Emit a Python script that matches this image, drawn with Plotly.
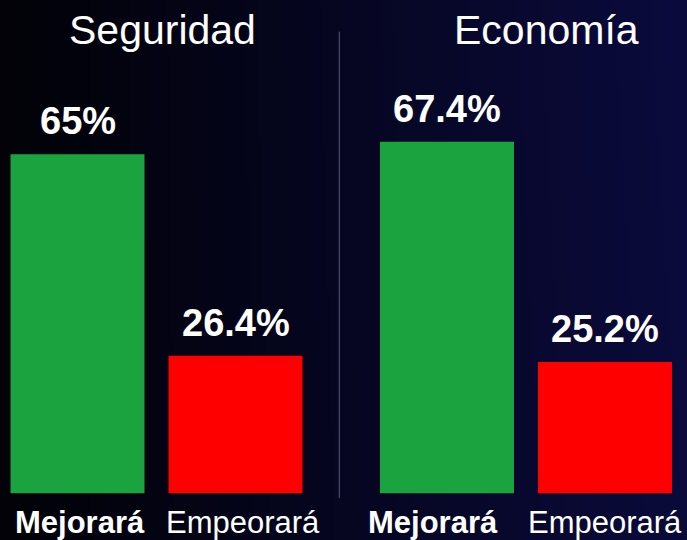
import base64
import struct
import zlib

import numpy as np
import plotly.graph_objects as go

# ---------------- data ----------------
panels = ["Seguridad", "Economía"]
categories = ["Mejorará", "Empeorará"]
seguridad_values = [65.0, 26.4]
economia_values = [67.4, 25.2]
seguridad_labels = ["65%", "26.4%"]
economia_labels = ["67.4%", "25.2%"]

# ---------------- style ----------------
bar_colors = ["#1ba340", "#fe0000"]
FONT = "Liberation Sans, Arial, sans-serif"
W, H = 687, 540


def gradient_png(w=172, h=135):
    xs = np.linspace(0.0, 1.0, w)[None, :]
    ys = np.linspace(0.0, 1.0, h)[:, None]
    t = np.clip(xs ** 1.05 * (0.9 + 0.1 * (1 - ys)) + 0.05 * ys * xs, 0, 1)
    c0 = np.array([2, 2, 8], dtype=float)
    c1 = np.array([11, 11, 62], dtype=float)
    img = (c0[None, None, :] * (1 - t[..., None]) + c1[None, None, :] * t[..., None])
    img = np.clip(img, 0, 255).astype(np.uint8)
    raw = b"".join(b"\x00" + img[r].tobytes() for r in range(h))

    def chunk(tag, data):
        c = struct.pack(">I", len(data)) + tag + data
        return c + struct.pack(">I", zlib.crc32(tag + data) & 0xFFFFFFFF)

    png = b"\x89PNG\r\n\x1a\n"
    png += chunk(b"IHDR", struct.pack(">IIBBBBB", w, h, 8, 2, 0, 0, 0))
    png += chunk(b"IDAT", zlib.compress(raw, 9))
    png += chunk(b"IEND", b"")
    return "data:image/png;base64," + base64.b64encode(png).decode()


fig = go.Figure()
fig.add_trace(go.Bar(x=categories, y=seguridad_values, marker_color=bar_colors,
                     marker_line_width=0, width=0.848, xaxis="x", yaxis="y",
                     hoverinfo="skip", showlegend=False))
fig.add_trace(go.Bar(x=categories, y=economia_values, marker_color=bar_colors,
                     marker_line_width=0, width=0.848, xaxis="x2", yaxis="y",
                     hoverinfo="skip", showlegend=False))

annotations = []
# value labels
for xref, vals, labs in (("x", seguridad_values, seguridad_labels),
                         ("x2", economia_values, economia_labels)):
    for c, v, lab in zip(categories, vals, labs):
        annotations.append(dict(x=c, y=v, xref=xref, yref="y", text=f"<b>{lab}</b>",
                                showarrow=False, yanchor="bottom", yshift=10,
                                font=dict(family=FONT, size=38, color="white")))

# panel titles
title_x = [162.5 / W, 546.5 / W]
for name, tx in zip(panels, title_x):
    annotations.append(dict(x=tx, y=1 - 5 / H, xref="paper", yref="paper", text=name,
                            showarrow=False, yanchor="top", xanchor="center",
                            font=dict(family=FONT, size=41, color="white")))

# category labels under bars
cat_shift = [[2, 7], [-14, 0]]
for p, xref in enumerate(("x", "x2")):
    for i, c in enumerate(categories):
        txt = f"<b>{c}</b>" if i == 0 else c
        annotations.append(dict(x=c, y=1 - 503.5 / H, xref=xref, yref="paper", text=txt,
                                showarrow=False, yanchor="top", xanchor="center",
                                xshift=cat_shift[p][i], borderpad=0,
                                font=dict(family=FONT, size=31, color="white")))

fig.update_layout(
    width=W, height=H, autosize=False,
    margin=dict(l=0, r=0, t=0, b=0, pad=0),
    paper_bgcolor="#04041a", plot_bgcolor="rgba(0,0,0,0)",
    xaxis=dict(domain=[0, 0.5], range=[-0.4905, 1.6835], visible=False,
               type="category", categoryarray=categories, fixedrange=True),
    xaxis2=dict(domain=[0.5, 1], range=[-0.655, 1.519], visible=False, anchor="y",
                type="category", categoryarray=categories, fixedrange=True),
    yaxis=dict(domain=[46.5 / H, 1], range=[0, 493.5 / 5.218], visible=False,
               fixedrange=True),
    annotations=annotations,
    images=[dict(source=gradient_png(), xref="paper", yref="paper", x=0, y=1,
                 sizex=1, sizey=1, sizing="stretch", xanchor="left", yanchor="top",
                 layer="below")],
    shapes=[dict(type="line", xref="paper", yref="paper", x0=339.3 / W, x1=339.3 / W,
                 y0=1 - 31.7 / H, y1=1 - 498 / H,
                 line=dict(color="rgba(120,120,165,0.7)", width=1))],
)

fig.write_html(
    "out.html",
    config={"displayModeBar": False},
    post_script="document.body.style.margin='0';document.body.style.padding='0';"
                "document.body.style.overflow='hidden';",
)
